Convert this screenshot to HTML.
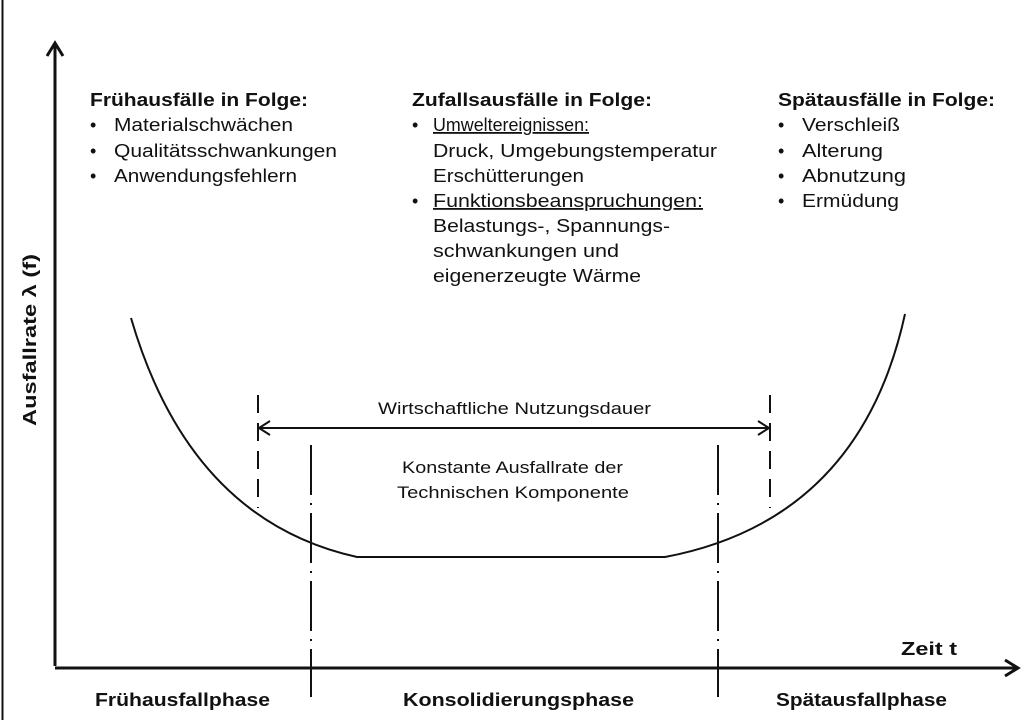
<!DOCTYPE html>
<html><head><meta charset="utf-8"><style>
html,body{margin:0;padding:0;background:#fff;}
svg{display:block;font-family:"Liberation Sans",Arial,sans-serif;}
</style></head><body>
<svg width="1024" height="720" viewBox="0 0 1024 720" xmlns="http://www.w3.org/2000/svg">
<rect x="0" y="0" width="1024" height="720" fill="#fff"/>
<line x1="2.5" y1="0" x2="2.5" y2="720" stroke="#111" stroke-width="2"/>
<line x1="55" y1="44" x2="55" y2="666" stroke="#111" stroke-width="3"/>
<polyline points="47,56 55,43 63,56" fill="none" stroke="#111" stroke-width="3"/>
<line x1="55" y1="668" x2="1016" y2="668" stroke="#111" stroke-width="3"/>
<polyline points="1005,660 1018,668 1005,676" fill="none" stroke="#111" stroke-width="3"/>
<path d="M131,318 Q190,520 357,557 L665,557 Q860,520 905,314" fill="none" stroke="#111" stroke-width="2"/>
<line x1="258" y1="395" x2="258" y2="508" stroke="#111" stroke-width="2" stroke-dasharray="18,10"/>
<line x1="770" y1="395" x2="770" y2="508" stroke="#111" stroke-width="2" stroke-dasharray="18,10"/>
<line x1="311" y1="445" x2="311" y2="697" stroke="#111" stroke-width="2" stroke-dasharray="50,8,2,8"/>
<line x1="718" y1="445" x2="718" y2="697" stroke="#111" stroke-width="2" stroke-dasharray="50,8,2,8"/>
<line x1="260" y1="428" x2="768" y2="428" stroke="#111" stroke-width="2"/>
<polyline points="270,421 259,428 270,435" fill="none" stroke="#111" stroke-width="2"/>
<polyline points="758,421 769,428 758,435" fill="none" stroke="#111" stroke-width="2"/>
<g font-size="17" fill="#111" lengthAdjust="spacingAndGlyphs">
<text x="378" y="414" textLength="273" lengthAdjust="spacingAndGlyphs">Wirtschaftliche Nutzungsdauer</text>
<text x="402" y="473" textLength="221" lengthAdjust="spacingAndGlyphs">Konstante Ausfallrate der</text>
<text x="397" y="498" textLength="232" lengthAdjust="spacingAndGlyphs">Technischen Komponente</text>
</g>
<g font-size="18" fill="#111">
<text x="90" y="106" font-weight="bold" textLength="218" lengthAdjust="spacingAndGlyphs">Frühausfälle in Folge:</text>
<text x="90" y="131">•</text><text x="114" y="131" textLength="179" lengthAdjust="spacingAndGlyphs">Materialschwächen</text>
<text x="90" y="157">•</text><text x="114" y="157" textLength="223" lengthAdjust="spacingAndGlyphs">Qualitätsschwankungen</text>
<text x="90" y="182">•</text><text x="114" y="182" textLength="183" lengthAdjust="spacingAndGlyphs">Anwendungsfehlern</text>

<text x="412" y="106" font-weight="bold" textLength="240" lengthAdjust="spacingAndGlyphs">Zufallsausfälle in Folge:</text>
<text x="412" y="131">•</text><text x="433" y="131" text-decoration="underline" textLength="156" lengthAdjust="spacingAndGlyphs">Umweltereignissen:</text>
<text x="433" y="157" textLength="284" lengthAdjust="spacingAndGlyphs">Druck, Umgebungstemperatur</text>
<text x="433" y="182" textLength="151" lengthAdjust="spacingAndGlyphs">Erschütterungen</text>
<text x="412" y="207">•</text><text x="433" y="207" text-decoration="underline" textLength="270" lengthAdjust="spacingAndGlyphs">Funktionsbeanspruchungen:</text>
<text x="433" y="232" textLength="237" lengthAdjust="spacingAndGlyphs">Belastungs-, Spannungs-</text>
<text x="433" y="257" textLength="186" lengthAdjust="spacingAndGlyphs">schwankungen und</text>
<text x="433" y="282" textLength="208" lengthAdjust="spacingAndGlyphs">eigenerzeugte Wärme</text>

<text x="778" y="106" font-weight="bold" textLength="217" lengthAdjust="spacingAndGlyphs">Spätausfälle in Folge:</text>
<text x="778" y="131">•</text><text x="802" y="131" textLength="98" lengthAdjust="spacingAndGlyphs">Verschleiß</text>
<text x="778" y="157">•</text><text x="802" y="157" textLength="81" lengthAdjust="spacingAndGlyphs">Alterung</text>
<text x="778" y="182">•</text><text x="802" y="182" textLength="104" lengthAdjust="spacingAndGlyphs">Abnutzung</text>
<text x="778" y="207">•</text><text x="802" y="207" textLength="97" lengthAdjust="spacingAndGlyphs">Ermüdung</text>
</g>
<g font-size="18" font-weight="bold" fill="#111">
<text x="901" y="655" textLength="56" lengthAdjust="spacingAndGlyphs">Zeit t</text>
<text x="95" y="706" textLength="175" lengthAdjust="spacingAndGlyphs">Frühausfallphase</text>
<text x="403" y="706" textLength="231" lengthAdjust="spacingAndGlyphs">Konsolidierungsphase</text>
<text x="776" y="706" textLength="171" lengthAdjust="spacingAndGlyphs">Spätausfallphase</text>
<text transform="translate(36,426) rotate(-90)" textLength="172" lengthAdjust="spacingAndGlyphs">Ausfallrate λ (f)</text>
</g>
</svg>
</body></html>
